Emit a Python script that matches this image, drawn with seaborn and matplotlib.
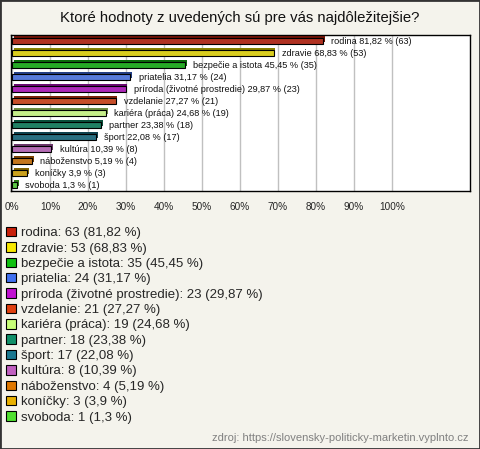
import matplotlib
matplotlib.use("Agg")
import matplotlib.pyplot as plt
import matplotlib.patheffects as pe
from matplotlib.patches import Patch, Rectangle
from matplotlib.colors import to_rgb
import seaborn as sns

names = ["rodina", "zdravie", "bezpečie a istota", "priatelia",
         "príroda (životné prostredie)", "vzdelanie", "kariéra (práca)",
         "partner", "šport", "kultúra", "náboženstvo", "koníčky", "svoboda"]
counts = [63, 53, 35, 24, 23, 21, 19, 18, 17, 8, 4, 3, 1]
pcts = [81.82, 68.83, 45.45, 31.17, 29.87, 27.27, 24.68, 23.38, 22.08, 10.39, 5.19, 3.9, 1.3]
colors = ["#c8200a", "#f8e800", "#10c010", "#4070f0", "#c010d0", "#e04010",
          "#c8ff78", "#10906a", "#1a7890", "#c060c0", "#e07800", "#e8b000", "#50e030"]
ticks = list(range(0, 101, 10))

title = "Ktoré hodnoty z uvedených sú pre vás najdôležitejšie?"
source = "zdroj: https://slovensky-politicky-marketin.vyplnto.cz"

def fmt(p):
    return f"{p:g}".replace(".", ",")

sns.set_style("white")
plt.rcParams["font.family"] = ["Liberation Sans", "DejaVu Sans"]

bg = "#f4f3ec"
fig = plt.figure(figsize=(4.8, 4.49), dpi=100, facecolor=bg)
ax = fig.add_axes([11 / 480, 1 - 191 / 449, 459 / 480, 156 / 449])
ax.set_facecolor("white")

sns.barplot(x=pcts, y=names, hue=names, palette=colors, legend=False,
            orient="h", width=0.45, edgecolor="black", linewidth=0.8, ax=ax)

# pseudo-3D top face
for patch, c in zip(ax.patches, colors):
    dark = tuple(v * 0.55 for v in to_rgb(c))
    patch.set_path_effects([pe.SimplePatchShadow(offset=(1.3, 1.3), shadow_rgbFace=dark, alpha=1.0),
                            pe.Normal()])
    patch.set_zorder(3)

for i, (n, p, c) in enumerate(zip(names, pcts, counts)):
    ax.annotate(f"{n} {fmt(p)} % ({c})", xy=(p, i), xytext=(6, 0), textcoords="offset points",
                va="center", ha="left", fontsize=6.6, color="#111111", zorder=4)

ax.set_xlim(-0.26, 120.5)
ax.set_ylim(12.5, -0.5)
ax.set_xticks(ticks)
ax.set_xticklabels([f"{t}%" for t in ticks], fontsize=7.2)
ax.set_yticks([])
ax.set_xlabel("")
ax.set_ylabel("")
ax.tick_params(axis="x", length=0, pad=8)
ax.grid(axis="x", color="#c0c0c0", linewidth=1)
ax.set_axisbelow(True)
for s in ax.spines.values():
    s.set_color("black")
    s.set_linewidth(1)

fig.text(0.5, 1 - 18 / 449, title, ha="center", va="center", fontsize=10.7, color="#111111")

handles = [Patch(facecolor=c, edgecolor="black", linewidth=0.8) for c in colors]
labels = [f"{n}: {c} ({fmt(p)} %)" for n, c, p in zip(names, counts, pcts)]
fig.legend(handles, labels, loc="upper left", bbox_to_anchor=(6 / 480, 1 - 227 / 449),
           frameon=False, fontsize=9.5, handlelength=0.72, handleheight=0.72,
           handletextpad=0.4, labelspacing=0.23, borderpad=0, borderaxespad=0)

fig.text(469 / 480, 1 - 438 / 449, source, ha="right", va="center", fontsize=8, color="#808080")

fig.add_artist(Rectangle((0, 0), 1, 1, transform=fig.transFigure, fill=False,
                         edgecolor="#333333", linewidth=2))

fig.savefig("out.png", dpi=100, facecolor=bg)
